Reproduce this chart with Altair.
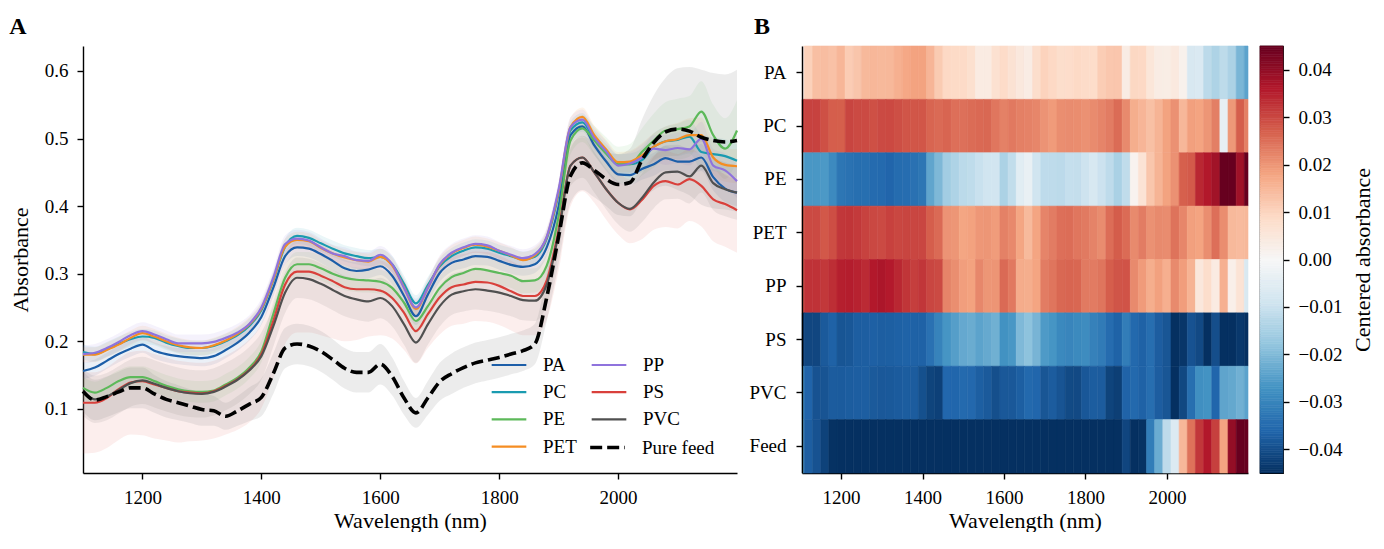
import altair as alt
import pandas as pd
import numpy as np

FONT = "Liberation Serif"

# ---------------- data ----------------
wavelength = list(range(1100, 2201, 20))  # nm, 56 points

PA = [0.156, 0.161, 0.171, 0.181, 0.189, 0.195, 0.186, 0.181, 0.178, 0.176, 0.175, 0.178, 0.187, 0.198, 0.213, 0.236,
      0.279, 0.326, 0.339, 0.337, 0.329, 0.319, 0.308, 0.304, 0.306, 0.311, 0.297, 0.267, 0.237, 0.269, 0.301, 0.316,
      0.321, 0.326, 0.325, 0.319, 0.313, 0.310, 0.314, 0.339, 0.400,
      0.505, 0.518, 0.490, 0.466, 0.447, 0.446, 0.455, 0.462, 0.471, 0.466, 0.466, 0.472, 0.443, 0.426, 0.420]
PC = [0.184, 0.181, 0.188, 0.196, 0.203, 0.207, 0.205, 0.198, 0.193, 0.190, 0.190, 0.193, 0.200, 0.209, 0.223, 0.246,
      0.290, 0.340, 0.356, 0.353, 0.345, 0.337, 0.330, 0.326, 0.323, 0.325, 0.314, 0.285, 0.256, 0.283, 0.311, 0.326,
      0.334, 0.339, 0.337, 0.331, 0.326, 0.321, 0.325, 0.352, 0.418,
      0.512, 0.524, 0.498, 0.478, 0.462, 0.462, 0.468, 0.488, 0.496, 0.498, 0.503, 0.480, 0.477, 0.474, 0.467]
PE = [0.131, 0.124, 0.131, 0.141, 0.147, 0.147, 0.141, 0.134, 0.129, 0.126, 0.125, 0.127, 0.136, 0.146, 0.161, 0.185,
      0.240, 0.294, 0.314, 0.314, 0.308, 0.300, 0.294, 0.291, 0.290, 0.288, 0.279, 0.257, 0.230, 0.252, 0.279, 0.295,
      0.301, 0.307, 0.305, 0.301, 0.297, 0.289, 0.290, 0.312, 0.385,
      0.497, 0.515, 0.497, 0.478, 0.462, 0.462, 0.480, 0.497, 0.512, 0.514, 0.518, 0.540, 0.505, 0.485, 0.512]
PET = [0.180, 0.180, 0.187, 0.195, 0.205, 0.212, 0.207, 0.200, 0.194, 0.191, 0.190, 0.194, 0.201, 0.211, 0.225, 0.248,
       0.291, 0.340, 0.350, 0.348, 0.338, 0.330, 0.324, 0.320, 0.318, 0.325, 0.312, 0.280, 0.248, 0.279, 0.313, 0.330,
       0.338, 0.343, 0.340, 0.334, 0.327, 0.320, 0.327, 0.354, 0.422,
       0.517, 0.532, 0.505, 0.484, 0.465, 0.466, 0.475, 0.488, 0.496, 0.499, 0.505, 0.505, 0.472, 0.461, 0.459]
PP = [0.181, 0.183, 0.190, 0.199, 0.209, 0.215, 0.210, 0.203, 0.197, 0.197, 0.197, 0.199, 0.205, 0.213, 0.226, 0.250,
      0.294, 0.344, 0.352, 0.349, 0.339, 0.330, 0.326, 0.320, 0.319, 0.328, 0.314, 0.279, 0.250, 0.279, 0.314, 0.331,
      0.339, 0.344, 0.342, 0.334, 0.328, 0.323, 0.329, 0.355, 0.425,
      0.517, 0.528, 0.501, 0.481, 0.460, 0.463, 0.472, 0.485, 0.483, 0.486, 0.484, 0.500, 0.460, 0.453, 0.437]
PS = [0.109, 0.109, 0.116, 0.129, 0.139, 0.141, 0.136, 0.131, 0.126, 0.124, 0.123, 0.126, 0.134, 0.144, 0.158, 0.181,
      0.230, 0.284, 0.303, 0.303, 0.297, 0.289, 0.280, 0.277, 0.277, 0.275, 0.264, 0.242, 0.215, 0.240, 0.265, 0.280,
      0.284, 0.288, 0.287, 0.282, 0.274, 0.267, 0.267, 0.290, 0.365,
      0.460, 0.472, 0.450, 0.425, 0.405, 0.395, 0.409, 0.430, 0.437, 0.432, 0.440, 0.430, 0.410, 0.403, 0.394]
PVC = [0.125, 0.114, 0.118, 0.128, 0.138, 0.142, 0.137, 0.131, 0.126, 0.123, 0.122, 0.125, 0.133, 0.143, 0.157, 0.178,
       0.222, 0.272, 0.294, 0.292, 0.285, 0.276, 0.267, 0.262, 0.259, 0.264, 0.252, 0.225, 0.198, 0.225, 0.252, 0.269,
       0.274, 0.277, 0.275, 0.272, 0.267, 0.261, 0.260, 0.284, 0.360,
       0.460, 0.472, 0.450, 0.425, 0.405, 0.396, 0.412, 0.435, 0.450, 0.451, 0.444, 0.460, 0.434, 0.425, 0.420]
FEED = [0.126, 0.113, 0.118, 0.125, 0.131, 0.131, 0.122, 0.114, 0.109, 0.104, 0.099, 0.097, 0.089, 0.097, 0.107, 0.117,
        0.152, 0.190, 0.196, 0.193, 0.185, 0.173, 0.160, 0.154, 0.154, 0.166, 0.148, 0.116, 0.094, 0.116, 0.140, 0.152,
        0.161, 0.168, 0.172, 0.176, 0.181, 0.186, 0.196, 0.265, 0.355,
        0.445, 0.464, 0.453, 0.440, 0.432, 0.435, 0.468, 0.494, 0.510, 0.514, 0.511, 0.502, 0.497, 0.495, 0.497]

# spread of the shaded bands (below / above the mean line)
PA_SD = [0.012, 0.012, 0.012, 0.012, 0.012, 0.012, 0.012, 0.012, 0.012, 0.012, 0.012, 0.012, 0.012, 0.012, 0.012, 0.012,
         0.013, 0.013, 0.013, 0.013, 0.013, 0.013, 0.013, 0.013, 0.013, 0.013, 0.013, 0.013, 0.013, 0.013, 0.013, 0.013,
         0.013, 0.013, 0.013, 0.013, 0.013, 0.013, 0.013, 0.013, 0.013,
         0.015, 0.015, 0.014, 0.014, 0.014, 0.015, 0.016, 0.017, 0.018, 0.018, 0.019, 0.020, 0.020, 0.020, 0.020]
PC_SD = [0.011, 0.011, 0.011, 0.011, 0.011, 0.011, 0.011, 0.011, 0.011, 0.011, 0.011, 0.011, 0.011, 0.011, 0.011, 0.011,
         0.012, 0.012, 0.012, 0.012, 0.012, 0.012, 0.012, 0.012, 0.012, 0.012, 0.012, 0.012, 0.012, 0.012, 0.012, 0.012,
         0.012, 0.012, 0.012, 0.012, 0.012, 0.012, 0.012, 0.012, 0.012,
         0.014, 0.014, 0.014, 0.014, 0.015, 0.016, 0.018, 0.020, 0.022, 0.024, 0.025, 0.026, 0.025, 0.025, 0.025]
PE_SD = [0.016, 0.016, 0.016, 0.016, 0.016, 0.016, 0.016, 0.016, 0.016, 0.016, 0.016, 0.016, 0.016, 0.016, 0.016, 0.016,
         0.018, 0.018, 0.018, 0.018, 0.018, 0.018, 0.018, 0.018, 0.018, 0.018, 0.018, 0.018, 0.018, 0.018, 0.018, 0.018,
         0.018, 0.018, 0.018, 0.018, 0.018, 0.018, 0.018, 0.018, 0.018,
         0.020, 0.020, 0.022, 0.024, 0.026, 0.030, 0.035, 0.040, 0.042, 0.045, 0.045, 0.045, 0.045, 0.045, 0.045]
PET_SD = [0.011, 0.011, 0.011, 0.011, 0.011, 0.011, 0.011, 0.011, 0.011, 0.011, 0.011, 0.011, 0.011, 0.011, 0.011, 0.011,
          0.012, 0.012, 0.012, 0.012, 0.012, 0.012, 0.012, 0.012, 0.012, 0.012, 0.012, 0.012, 0.012, 0.012, 0.012, 0.012,
          0.012, 0.012, 0.012, 0.012, 0.012, 0.012, 0.012, 0.012, 0.012,
          0.014, 0.014, 0.014, 0.014, 0.015, 0.016, 0.018, 0.020, 0.022, 0.024, 0.025, 0.026, 0.025, 0.025, 0.025]
PP_SD = [0.013, 0.013, 0.013, 0.013, 0.013, 0.013, 0.013, 0.013, 0.013, 0.013, 0.013, 0.013, 0.013, 0.013, 0.013, 0.013,
         0.013, 0.013, 0.013, 0.013, 0.013, 0.013, 0.013, 0.013, 0.013, 0.013, 0.013, 0.013, 0.013, 0.013, 0.013, 0.013,
         0.013, 0.013, 0.013, 0.013, 0.013, 0.013, 0.013, 0.013, 0.013,
         0.015, 0.015, 0.015, 0.015, 0.016, 0.017, 0.019, 0.020, 0.022, 0.023, 0.024, 0.025, 0.025, 0.025, 0.025]
PS_SD = [0.075, 0.074, 0.074, 0.075, 0.077, 0.080, 0.080, 0.078, 0.076, 0.072, 0.070, 0.070, 0.072, 0.075, 0.078, 0.080,
         0.085, 0.088, 0.090, 0.090, 0.088, 0.085, 0.080, 0.075, 0.070, 0.066, 0.060, 0.055, 0.048, 0.050, 0.055, 0.057,
         0.058, 0.058, 0.058, 0.058, 0.058, 0.058, 0.058, 0.058, 0.060,
         0.060, 0.050, 0.045, 0.045, 0.047, 0.050, 0.058, 0.065, 0.068, 0.065, 0.062, 0.060, 0.062, 0.063, 0.063]
PS_SD_UP = [0.045, 0.045, 0.045, 0.045, 0.045, 0.045, 0.045, 0.045, 0.045, 0.045, 0.045, 0.045, 0.045, 0.045, 0.045, 0.045,
            0.045, 0.045, 0.045, 0.045, 0.045, 0.045, 0.045, 0.045, 0.045, 0.045, 0.045, 0.040, 0.038, 0.040, 0.045, 0.045,
            0.045, 0.045, 0.045, 0.045, 0.045, 0.045, 0.045, 0.045, 0.045,
            0.045, 0.045, 0.045, 0.045, 0.045, 0.045, 0.045, 0.045, 0.045, 0.045, 0.045, 0.045, 0.045, 0.045, 0.045]
PVC_SD = [0.035, 0.035, 0.035, 0.035, 0.035, 0.035, 0.035, 0.035, 0.035, 0.035, 0.035, 0.035, 0.035, 0.035, 0.035, 0.035,
          0.030, 0.030, 0.030, 0.030, 0.030, 0.030, 0.030, 0.030, 0.030, 0.030, 0.030, 0.030, 0.030, 0.030, 0.030, 0.030,
          0.030, 0.030, 0.030, 0.030, 0.030, 0.030, 0.030, 0.030, 0.030,
          0.030, 0.030, 0.030, 0.030, 0.032, 0.034, 0.036, 0.038, 0.040, 0.040, 0.040, 0.040, 0.040, 0.040, 0.040]
FEED_SD = [0.030, 0.030, 0.030, 0.030, 0.030, 0.030, 0.028, 0.027, 0.026, 0.025, 0.024, 0.022, 0.020, 0.022, 0.025, 0.028,
           0.030, 0.030, 0.030, 0.030, 0.030, 0.030, 0.030, 0.030, 0.030, 0.030, 0.028, 0.025, 0.022, 0.025, 0.028, 0.030,
           0.030, 0.030, 0.030, 0.030, 0.030, 0.030, 0.030, 0.035, 0.040,
           0.040, 0.040, 0.040, 0.040, 0.045, 0.050, 0.060, 0.070, 0.080, 0.090, 0.095, 0.100, 0.100, 0.100, 0.105]

series_order = ["PA", "PC", "PE", "PET", "PP", "PS", "PVC", "Pure feed"]
polymers = series_order[:7]
heat_labels = ["PA", "PC", "PE", "PET", "PP", "PS", "PVC", "Feed"]
means = {"PA": PA, "PC": PC, "PE": PE, "PET": PET, "PP": PP, "PS": PS, "PVC": PVC, "Pure feed": FEED}
sd_lo = {"PA": PA_SD, "PC": PC_SD, "PE": PE_SD, "PET": PET_SD, "PP": PP_SD, "PS": PS_SD, "PVC": PVC_SD,
         "Pure feed": FEED_SD}
sd_hi = dict(sd_lo, PS=PS_SD_UP)
colors = {"PA": "#1c5ea8", "PC": "#1a9bb0", "PE": "#5db95a", "PET": "#f58d22", "PP": "#8f73dd",
          "PS": "#d9403b", "PVC": "#505050", "Pure feed": "#000000"}
# RdBu_r colour stops
rdbu_r = ["#053061", "#2166ac", "#4393c3", "#92c5de", "#d1e5f0", "#f7f7f7",
          "#fddbc7", "#f4a582", "#d6604d", "#b2182b", "#67001f"]
rdbu_dom = [-0.045, -0.036, -0.027, -0.018, -0.009, 0.0, 0.009, 0.018, 0.027, 0.036, 0.045]

# ---------------- tables ----------------
rows = []
for name in series_order:
    for w, v, a, b in zip(wavelength, means[name], sd_lo[name], sd_hi[name]):
        rows.append({"wl": w, "series": name, "absorbance": v, "lo": v - a, "hi": v + b})
df = pd.DataFrame(rows)
df_poly = df[df.series != "Pure feed"]
df_feed = df[df.series == "Pure feed"]

poly_mean = [float(np.mean([means[p][i] for p in polymers])) for i in range(len(wavelength))]
HX0, HX1 = 1104, 2199
hrows = []
for name, lab in zip(series_order, heat_labels):
    for i, w in enumerate(wavelength):
        hrows.append({"row": lab, "x0": max(w - 10, HX0), "x1": min(w + 10, HX1),
                      "centered": means[name][i] - poly_mean[i]})
dfh = pd.DataFrame(hrows)

cb_vals = [round(-0.045 + 0.0005 * i, 5) for i in range(181)]
dfc = pd.DataFrame({"v": cb_vals, "lo": [max(v - 0.00025, -0.045) for v in cb_vals],
                    "hi": [min(v + 0.00025, 0.045) for v in cb_vals]})

# ---------------- scales ----------------
xA = alt.Scale(domain=[1100, 2200], nice=False, zero=False)
yA = alt.Scale(domain=[0.005, 0.637], nice=False, zero=False)
color_scale = alt.Scale(domain=polymers, range=[colors[s] for s in polymers])
fill_scale = alt.Scale(domain=polymers, range=[colors[s] for s in polymers])
dash_scale = alt.Scale(domain=["Pure feed"], range=[[12, 5]])
cscale = alt.Scale(domain=rdbu_dom, range=rdbu_r, clamp=True, interpolate="rgb")

x_ticks = [1200, 1400, 1600, 1800, 2000]

leg_common = dict(title=None, orient="none", padding=0, symbolType="M-2,0L2,0", symbolSize=300,
                  labelFont=FONT, labelFontSize=19, labelColor="black", labelOffset=24)
legend_poly = alt.Legend(legendX=416, legendY=309, columns=2, rowPadding=7.2, columnPadding=10,
                         symbolStrokeWidth=2.2, **leg_common)
legend_feed = alt.Legend(legendX=514, legendY=391, symbolStrokeWidth=3.6, symbolStrokeColor="black",
                         symbolDash=[10, 4], **leg_common)

xaxisA = alt.Axis(values=x_ticks, format="d", title="Wavelength (nm)", titlePadding=3)
yaxisA = alt.Axis(values=[0.1, 0.2, 0.3, 0.4, 0.5, 0.6], format=".1f", title="Absorbance", titlePadding=12)

bands = alt.Chart(df_poly).mark_area(interpolate="monotone", opacity=0.09).encode(
    x=alt.X("wl:Q", scale=xA, axis=xaxisA),
    y=alt.Y("lo:Q", scale=yA, axis=yaxisA),
    y2="hi:Q",
    fill=alt.Fill("series:N", scale=fill_scale, legend=None),
)
feed_band = alt.Chart(df_feed).mark_area(
    interpolate="monotone", opacity=0.16, color="#8a8a8a").encode(
    x=alt.X("wl:Q", scale=xA),
    y=alt.Y("lo:Q", scale=yA),
    y2="hi:Q",
)
poly_lines = alt.Chart(df_poly).mark_line(interpolate="monotone", strokeWidth=2.2).encode(
    x=alt.X("wl:Q", scale=xA),
    y=alt.Y("absorbance:Q", scale=yA),
    color=alt.Color("series:N", scale=color_scale, legend=legend_poly),
)
feed_line = alt.Chart(df_feed).mark_line(
    interpolate="monotone", strokeWidth=3.6, color="black").encode(
    x=alt.X("wl:Q", scale=xA),
    y=alt.Y("absorbance:Q", scale=yA),
    strokeDash=alt.StrokeDash("series:N", scale=dash_scale, legend=legend_feed),
)

title_kw = dict(anchor="start", frame="bounds", fontSize=24, fontWeight="bold", font=FONT, color="black", offset=7)

panelA = alt.layer(bands, feed_band, poly_lines, feed_line).properties(
    width=654, height=427, title=alt.TitleParams("A", **title_kw))

heat = alt.Chart(dfh).mark_rect(strokeWidth=0.6).encode(
    x=alt.X("x0:Q", scale=alt.Scale(domain=[HX0, HX1], nice=False, zero=False),
            axis=alt.Axis(values=x_ticks, format="d", title="Wavelength (nm)", titlePadding=3)),
    x2="x1:Q",
    y=alt.Y("row:N", sort=heat_labels, scale=alt.Scale(paddingInner=0, paddingOuter=0),
            axis=alt.Axis(title=None, labelPadding=10)),
    color=alt.Color("centered:Q", scale=cscale, legend=None),
    stroke=alt.Stroke("centered:Q", scale=cscale, legend=None),
).properties(width=446, height=427, title=alt.TitleParams("B", dx=5, **title_kw))

cbar = alt.Chart(dfc).mark_rect(strokeWidth=0.6).encode(
    x=alt.X(datum=0, scale=alt.Scale(domain=[0, 1]), axis=None),
    x2=alt.X2(datum=1),
    y=alt.Y("lo:Q", scale=alt.Scale(domain=[-0.045, 0.045], nice=False, zero=False),
            axis=alt.Axis(orient="right", values=[-0.04, -0.03, -0.02, -0.01, 0.0, 0.01, 0.02, 0.03, 0.04],
                          format=".2f", title="Centered absorbance", titleAngle=270, titleBaseline="top",
                          titlePadding=11, domain=False)),
    y2="hi:Q",
    color=alt.Color("v:Q", scale=cscale, legend=None),
    stroke=alt.Stroke("v:Q", scale=cscale, legend=None),
).properties(width=23, height=427, title=alt.TitleParams(" ", **title_kw),
             view=alt.ViewBackground(stroke="black", strokeWidth=1.2))

right_part = alt.hconcat(heat, cbar, spacing=10).resolve_scale(color="independent", stroke="independent")

chart = alt.hconcat(panelA, right_part, spacing=3).resolve_scale(
    color="independent", stroke="independent").configure(
    font=FONT, padding={"left": 0, "top": 6, "right": 0, "bottom": 0}
).configure_view(stroke="transparent").configure_axis(
    labelFont=FONT, titleFont=FONT, labelFontSize=19, titleFontSize=22, labelColor="black",
    titleColor="black", titleFontWeight="normal", domainColor="black", domainWidth=1.4,
    tickColor="black", tickWidth=1.4, tickSize=6, grid=False, labelPadding=9
).configure_legend(labelFont=FONT)

chart.save("out.html", embed_options={"renderer": "svg", "actions": False})
